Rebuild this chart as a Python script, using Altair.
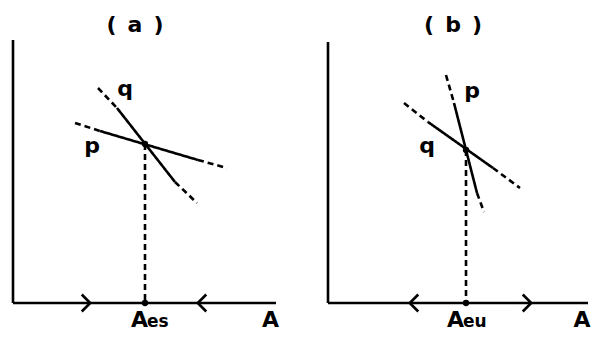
import altair as alt
import pandas as pd

FONT = "DejaVu Sans"

# ---------------- Panel (a) data (origin = axes corner, y up) ----------------
a_title = "(\u2002a\u2002)"
a_title_pos = (122, 271)
a_axis_top = 263
a_axis_right = 263
# curve q: points along line and segment styles
a_q_x = [85, 104, 162, 184]
a_q_y = [215, 195, 121, 100]
a_q_style = ["dashed", "solid", "dashed"]
# curve p
a_p_x = [62, 87, 185, 214]
a_p_y = [180, 172, 143, 135]
a_p_style = ["dashed", "solid", "dashed"]
# equilibrium
a_eq_x = 132
a_eq_y = 159
# arrows on A axis
a_arrow_x = [73, 189]
a_arrow_dir = ["right", "left"]
# curve labels
a_lab_text = ["q", "p"]
a_lab_x = [112, 79]
a_lab_y = [207, 150]
# axis labels
a_eq_label = ("A", "es")
a_eq_label_x = (126.5, 134)
a_axis_label_x = 257.5
a_xdomain = [-5, 287]

# ---------------- Panel (b) data ----------------
b_title = "(\u2002b\u2002)"
b_title_pos = (125, 271)
b_axis_top = 261
b_axis_right = 260
b_p_x = [118, 126, 149, 156]
b_p_y = [228, 200, 110, 91]
b_p_style = ["dashed", "solid", "dashed"]
b_q_x = [76, 100, 165, 192]
b_q_y = [200, 181, 135, 115]
b_q_style = ["dashed", "solid", "dashed"]
b_eq_x = 138
b_eq_y = 153
b_arrow_x = [86, 199]
b_arrow_dir = ["left", "right"]
b_lab_text = ["p", "q"]
b_lab_x = [144, 99]
b_lab_y = [205, 150]
b_eq_label = ("A", "eu")
b_eq_label_x = (127.5, 135)
b_axis_label_x = 254
b_xdomain = [-28, 264]

YDOMAIN = [-29, 295]
LABEL_BASE = -24

RIGHT = "M-0.5,-1L0.5,0L-0.5,1"
LEFT = "M0.5,-1L-0.5,0L0.5,1"


def segs_from(xs, ys, styles):
    rows = []
    for i, s in enumerate(styles):
        rows.append(dict(x=xs[i], y=ys[i], x2=xs[i + 1], y2=ys[i + 1], style=s))
    return rows


def panel(title, title_pos, top, right, c1, c2, eq_x, eq_y, arrow_x, arrow_dir,
          lab_text, lab_x, lab_y, eq_label, eq_label_x, axis_label_x, xdomain, w):
    xs = alt.Scale(domain=xdomain, nice=False, zero=False)
    ys = alt.Scale(domain=YDOMAIN, nice=False, zero=False)
    rows = [
        dict(x=0, y=0, x2=0, y2=top, style="solid"),
        dict(x=0, y=0, x2=right, y2=0, style="solid"),
        dict(x=eq_x, y=eq_y, x2=eq_x, y2=0, style="dashed"),
    ]
    rows += segs_from(*c1)
    rows += segs_from(*c2)
    segs = pd.DataFrame(rows)
    lines = alt.Chart(segs).mark_rule(color="black", strokeWidth=2.6, clip=True).encode(
        x=alt.X("x:Q", scale=xs, axis=None),
        y=alt.Y("y:Q", scale=ys, axis=None),
        x2="x2:Q",
        y2="y2:Q",
        strokeDash=alt.StrokeDash("style:N", scale=alt.Scale(domain=["solid", "dashed"], range=[[1, 0], [6, 4]]), legend=None),
    )
    dots = alt.Chart(pd.DataFrame(dict(x=[eq_x, eq_x], y=[eq_y, 0]))).mark_circle(
        color="black", size=40, opacity=1, clip=True).encode(
        x=alt.X("x:Q", scale=xs), y=alt.Y("y:Q", scale=ys))
    arrows = alt.Chart(pd.DataFrame(dict(x=arrow_x, y=[0] * len(arrow_x), d=arrow_dir))).mark_point(
        filled=False, color="black", strokeWidth=2.6, size=289, opacity=1,
        strokeJoin="miter", clip=True).encode(
        x=alt.X("x:Q", scale=xs), y=alt.Y("y:Q", scale=ys),
        shape=alt.Shape("d:N", scale=alt.Scale(domain=["right", "left"], range=[RIGHT, LEFT]), legend=None))
    labs = alt.Chart(pd.DataFrame(dict(x=lab_x, y=lab_y, t=lab_text))).mark_text(
        font=FONT, fontSize=22, fontWeight="bold", baseline="alphabetic", align="center", color="black",
        clip=True).encode(
        x=alt.X("x:Q", scale=xs), y=alt.Y("y:Q", scale=ys), text="t:N")
    big = alt.Chart(pd.DataFrame(dict(x=[eq_label_x[0], axis_label_x], y=[LABEL_BASE] * 2, t=[eq_label[0], "A"]))).mark_text(
        font=FONT, fontSize=22, fontWeight="bold", baseline="alphabetic", align="center", color="black",
        clip=True).encode(
        x=alt.X("x:Q", scale=xs), y=alt.Y("y:Q", scale=ys), text="t:N")
    sub = alt.Chart(pd.DataFrame(dict(x=[eq_label_x[1]], y=[LABEL_BASE], t=[eq_label[1]]))).mark_text(
        font=FONT, fontSize=17, fontWeight="bold", baseline="alphabetic", align="left", color="black",
        clip=True).encode(
        x=alt.X("x:Q", scale=xs), y=alt.Y("y:Q", scale=ys), text="t:N")
    ttl = alt.Chart(pd.DataFrame(dict(x=[title_pos[0]], y=[title_pos[1]], t=[title]))).mark_text(
        font=FONT, fontSize=22, fontWeight="bold", baseline="alphabetic", align="center", color="black",
        clip=True).encode(
        x=alt.X("x:Q", scale=xs), y=alt.Y("y:Q", scale=ys), text="t:N")
    return alt.layer(lines, dots, arrows, labs, big, sub, ttl).properties(width=w, height=324)


pa = panel(a_title, a_title_pos, a_axis_top, a_axis_right,
           (a_q_x, a_q_y, a_q_style), (a_p_x, a_p_y, a_p_style),
           a_eq_x, a_eq_y, a_arrow_x, a_arrow_dir, a_lab_text, a_lab_x, a_lab_y,
           a_eq_label, a_eq_label_x, a_axis_label_x, a_xdomain, 292)
pb = panel(b_title, b_title_pos, b_axis_top, b_axis_right,
           (b_p_x, b_p_y, b_p_style), (b_q_x, b_q_y, b_q_style),
           b_eq_x, b_eq_y, b_arrow_x, b_arrow_dir, b_lab_text, b_lab_x, b_lab_y,
           b_eq_label, b_eq_label_x, b_axis_label_x, b_xdomain, 292)

chart = alt.hconcat(pa, pb, spacing=0).properties(
    padding=0, background="white"
).configure_view(strokeWidth=0, stroke="transparent")
chart.save("out.html", embed_options={"renderer": "svg", "actions": False})
